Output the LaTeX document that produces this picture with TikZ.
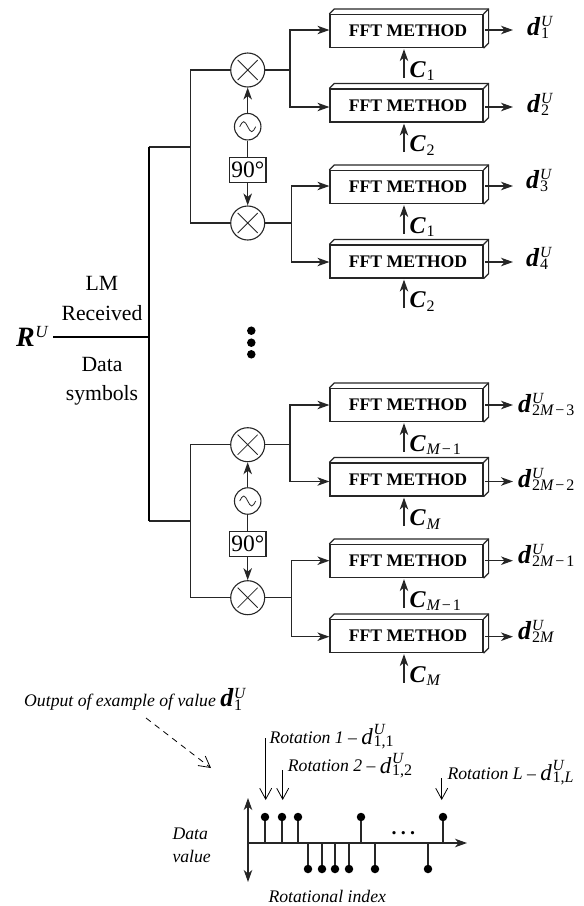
\documentclass[tikz,border=0pt]{standalone}
\usepackage{fontspec}
\setmainfont{Liberation Serif}
\usetikzlibrary{arrows.meta,calc}
\newcommand{\fs}[1]{\fontsize{#1}{#1}\selectfont}
% base, subscript, superscript
\newcommand{\tens}[3]{{#1}\kern0.8pt\rlap{\raisebox{8.5pt}{\fs{15.5}\itshape #3}}\raisebox{-3.5pt}{\fs{16}\upshape #2}}
\newcommand{\bd}{\fs{26}\bfseries\itshape d}
\newcommand{\rd}{\raisebox{-1.5pt}{\fs{23}\itshape d}}
\newcommand{\mi}{\itshape M\upshape}
\newcommand{\mns}{\kern2pt−\kern2pt}
\newcommand{\fftbox}[3]{%
  \node[fftblock] (#1) at (#2,#3) {\hspace*{3pt}FFT METHOD};
  \draw[edge] (#1.north west) -- ++(5,-5) -- ($(#1.north east)+(5,-5)$) -- ($(#1.south east)+(5,-5)$) -- (#1.south east);
  \draw[edge] (#1.north east) -- ++(5,-5);
}
\tikzset{
  x=1pt,y=-1pt,
  edge/.style={line width=1.2pt,draw=black!85},
  bus/.style={line width=1.7pt,draw=black},
  headtip/.tip={Stealth[length=12pt,width=8.5pt,inset=3.5pt]},
  arr/.style={edge,-headtip},
  thinarr/.style={line width=0.8pt,-{Straight Barb[length=11pt,width=12pt]}},
  fftblock/.style={draw=black!85,line width=1.2pt,fill=white,minimum width=153pt,minimum height=33pt,inner sep=0pt,font=\fs{17.7}\bfseries},
  mixer/.style={circle,draw=black!85,line width=1.1pt,minimum size=34pt,inner sep=0pt,fill=white,
    path picture={\draw[line width=0.8pt] (path picture bounding box.center) ++(-10,-10) -- ++(20,20) ++(-20,0) -- ++(20,-20);}},
  osc/.style={circle,draw=black!85,line width=1.1pt,minimum size=26.5pt,inner sep=0pt,fill=white,
    path picture={\draw[line width=0.8pt] (path picture bounding box.center) ++(-8,0) sin ++(4,-5) cos ++(4,5) sin ++(4,5) cos ++(4,-5);}},
  phase/.style={draw=black!85,line width=1.1pt,fill=white,minimum width=36.5pt,minimum height=25pt,inner sep=0pt,font=\fs{23.5}},
  lab/.style={inner sep=0pt,font=\fs{21.7},anchor=base},
  ital/.style={inner sep=0pt,font=\fs{17.7}\itshape,anchor=base west},
  sidelab/.style={inner sep=0pt,anchor=base west},
  dotn/.style={circle,fill=black,inner sep=0pt,minimum size=8.5pt},
}
\begin{document}
\begin{tikzpicture}
\useasboundingbox (0,0) rectangle (584,906);
% ---- group blocks
\fftbox{b1}{406.5}{31}
\fftbox{b2}{406.5}{105.5}
\fftbox{b3}{406.5}{187}
\fftbox{b4}{406.5}{261.5}
\fftbox{b5}{406.5}{405}
\fftbox{b6}{406.5}{479.5}
\fftbox{b7}{406.5}{561}
\fftbox{b8}{406.5}{636}
% ---- mixers etc
\foreach \n/\a/\b/\c/\d/\j in {A/70/126.7/170/223/147, B/444.7/501/544/597.7/521}{
  \node[mixer] (m\n1) at (247.7,\a) {};
  \node[osc] (o\n) at (247.7,\b) {};
  \node[phase] (p\n) at (247.7,\c) {90°};
  \node[mixer] (m\n2) at (247.7,\d) {};
  \draw[arr] (o\n) -- (m\n1);
  \draw[edge] (o\n) -- (p\n);
  \draw[arr] (p\n) -- (m\n2);
  \coordinate (v\n) at (190.5,\j);
  \draw[edge] (m\n1.west) -| (v\n) |- (m\n2.west);
}
\coordinate (topbus) at (148.7,147);
\coordinate (botbus) at (148.7,521);
\coordinate (rin) at (148.7,337.3);
\draw[edge] (topbus) -- (vA);
\draw[edge] (botbus) -- (vB);
\draw[bus] (topbus) -- (botbus);
% ---- branches
\foreach \m/\sx/\u/\uy/\v/\vy in {mA1/290/b1/30/b2/107, mA2/291.5/b3/186/b4/262, mB1/290/b5/405/b6/481.5, mB2/291.5/b7/560.7/b8/636.7}{
  \coordinate (s\m) at (\sx,0 |- \m);
  \coordinate (i\u) at (\u.west |- 0,\uy);
  \coordinate (i\v) at (\v.west |- 0,\vy);
  \draw[edge] (\m.east) -- (s\m);
  \draw[arr] (s\m) |- (i\u);
  \draw[arr] (s\m) |- (i\v);
}
% ---- code inputs
\foreach \b/\t in {b1/1,b2/2,b3/1,b4/2,b5/{\mi\mns 1},b6/\mi,b7/{\mi\mns 1},b8/\mi}{
  \coordinate (c\b) at ($(\b.south)+(-2.5,29.5)$);
  \coordinate (ct\b) at ($(\b.south)+(-2.5,1)$);
  \draw[arr] (c\b) -- (ct\b);
  \node[sidelab] (lc\b) at ($(c\b)+(5.5,-0.5)$) {\tens{\fs{24}\bfseries\itshape C}{\t}{}};
}
% ---- data outputs
\foreach \b/\ay/\lx/\ly/\s in {b1/30/527/35/1,b2/107/527/112/2,b3/186/526/188/3,b4/262/526/266/4,
  b5/405/518/412/{2\mi\mns 3},b6/481.5/518/487/{2\mi\mns 2},b7/560.7/518/563/{2\mi\mns 1},b8/636.7/518/639/{2\mi}}{
  \coordinate (e\b) at (485,\ay);
  \coordinate (f\b) at (513,\ay);
  \draw[arr] (e\b) -- (f\b);
  \node[sidelab] (ld\b) at (\lx,\ly) {\tens{\bd}{\s}{U}};
}
% ---- input
\node[sidelab] (R) at (16,346) {\fs{28}\bfseries\itshape R\kern0.5pt\raisebox{8.5pt}{\fs{17}\mdseries\itshape U}};
\coordinate (rstart) at (53,337.3);
\draw[bus] (rstart) -- (rin);
\node[lab] (t1) at (102,290) {LM};
\node[lab] (t2) at (102,320) {Received};
\node[lab] (t3) at (102,371) {Data};
\node[lab] (t4) at (102,400.7) {symbols};
\node[dotn] (d1) at (251.3,330.7) {};
\node[dotn] (d2) at (251.3,342.7) {};
\node[dotn] (d3) at (251.3,354.3) {};
% ---- lower plot
\node[ital] (ex) at (24,706.5) {Output of example of value \tens{\bd}{1}{U}};
\coordinate (da) at (146,718);
\coordinate (db) at (211,768);
\draw[thinarr,dash pattern=on 6pt off 5pt] (da) -- (db);
\coordinate (ax0) at (248,843);
\coordinate (axr) at (467,843);
\coordinate (axt) at (248,798);
\coordinate (axb) at (248,882);
\draw[arr] (ax0) -- (axr);
\draw[edge,headtip-headtip] (axt) -- (axb);
\foreach \x in {265,282,298,361,443}{
  \node[dotn] (u\x) at (\x,817) {};
  \coordinate (ub\x) at (\x,843);
  \draw[edge] (ub\x) -- (u\x);
}
\foreach \x in {308,322,335,349,375,428}{
  \node[dotn] (l\x) at (\x,869) {};
  \coordinate (lb\x) at (\x,843);
  \draw[edge] (lb\x) -- (l\x);
}
\coordinate (rs1) at (265.7,738);
\coordinate (re1) at (265.7,800);
\coordinate (rs2) at (282.7,770);
\coordinate (re2) at (282.7,800);
\coordinate (rs3) at (441.7,778);
\coordinate (re3) at (441.7,800);
\draw[thinarr] (rs1) -- (re1);
\draw[thinarr] (rs2) -- (re2);
\draw[thinarr] (rs3) -- (re3);
\node[ital] (r1) at (269.3,743.3) {Rotation 1 – \tens{\rd}{1,1}{U}};
\node[ital] (r2) at (287.7,771.7) {Rotation 2 – \tens{\rd}{1,2}{U}};
\node[ital] (r3) at (447.3,779) {Rotation L – \tens{\rd}{1,\itshape L}{U}};
\node[ital] (dv1) at (172.3,839) {Data};
\node[ital] (dv2) at (172.3,862) {value};
\node[ital] (ri) at (268.3,902) {Rotational index};
\node[inner sep=0pt,font=\fs{20}\bfseries,anchor=base] (dd) at (403.3,834.5) {.\kern4.3pt.\kern4.3pt.};
\end{tikzpicture}
\end{document}
